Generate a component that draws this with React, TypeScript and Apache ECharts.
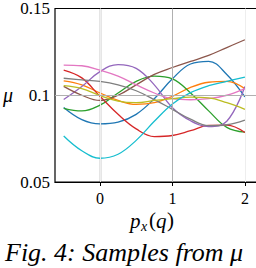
import React, { useEffect, useRef } from "react";
import * as echarts from "echarts";

const xs = [-0.5, -0.25, 0, 0.25, 0.5, 0.75, 1, 1.25, 1.5, 1.75, 2];
const blue = [0.093, 0.086, 0.0835, 0.0845, 0.089, 0.098, 0.1095, 0.118, 0.1195, 0.112, 0.099];
const orange = [0.1083, 0.106, 0.1013, 0.097, 0.0947, 0.0957, 0.0994, 0.1045, 0.1075, 0.108, 0.1038];
const green = [0.0925, 0.091, 0.0943, 0.1013, 0.108, 0.111, 0.1094, 0.1013, 0.091, 0.0815, 0.0787];
const red = [0.1145, 0.11, 0.0994, 0.089, 0.0806, 0.0762, 0.0768, 0.0796, 0.0826, 0.0828, 0.0785];
const purple = [0.0975, 0.105, 0.1136, 0.1177, 0.1155, 0.106, 0.0928, 0.0853, 0.082, 0.085, 0.105];
const brown = [0.1051, 0.1, 0.097, 0.1, 0.106, 0.112, 0.116, 0.1195, 0.123, 0.1275, 0.132];
const pink = [0.1174, 0.117, 0.1145, 0.111, 0.106, 0.1013, 0.098, 0.0974, 0.098, 0.1, 0.1038];
const gray = [0.1098, 0.1089, 0.108, 0.106, 0.1026, 0.0975, 0.0919, 0.0862, 0.0825, 0.083, 0.0857];
const olive = [0.1055, 0.1038, 0.0998, 0.0966, 0.0957, 0.097, 0.098, 0.0989, 0.0985, 0.0957, 0.0919];
const cyan = [0.0765, 0.068, 0.0637, 0.066, 0.074, 0.085, 0.095, 0.1015, 0.1055, 0.108, 0.1105];

const samples = [blue, orange, green, red, purple, brown, pink, gray, olive, cyan];
const colors = ["#1f77b4", "#ff7f0e", "#2ca02c", "#d62728", "#9467bd", "#8c564b", "#e377c2", "#7f7f7f", "#bcbd22", "#17becf"];
const xTicks = [0, 1, 2];
const yTicks = [0.05, 0.1, 0.15];

const FONT = "Liberation Serif";

export default function App() {
  const ref = useRef<HTMLDivElement>(null);
  useEffect(() => {
    const chart = echarts.init(ref.current!, null, { renderer: "svg" });
    const series: any[] = [
      {
        type: "line",
        data: [],
        silent: true,
        z: 1,
        markLine: {
          silent: true,
          symbol: "none",
          animation: false,
          label: { show: false },
          data: [
            { xAxis: 0, lineStyle: { color: "#eeeeee", width: 1, type: "solid" } },
            { xAxis: 1, lineStyle: { color: "#b0b0b0", width: 1, type: "solid" } },
            { xAxis: 2, lineStyle: { color: "#eeeeee", width: 1, type: "solid" } },
            { yAxis: 0.1, lineStyle: { color: "#b0b0b0", width: 1, type: "solid" } },
          ],
        },
      },
    ];
    samples.forEach((s, i) => {
      series.push({
        type: "line",
        data: xs.map((x, j) => [x, s[j]]),
        smooth: 0.4,
        showSymbol: false,
        z: 2,
        lineStyle: { color: colors[i], width: 1.3 },
      });
    });
    const txt = (text: string, x: number, y: number, size: number, italic: boolean) => ({
      type: "text",
      x,
      y,
      style: {
        text,
        fontFamily: FONT,
        fontSize: size,
        fontStyle: italic ? "italic" : "normal",
        fill: "#000",
        verticalAlign: "middle",
      },
    });
    chart.setOption({
      animation: false,
      textStyle: { fontFamily: FONT },
      grid: { left: 55, top: 6, bottom: 86, right: 0, show: true, borderColor: "#000", borderWidth: 1.2 },
      xAxis: {
        type: "value",
        min: -0.62,
        max: 2.36,
        axisLine: { show: true, lineStyle: { color: "#000", width: 1.2 } },
        axisTick: { show: true, customValues: xTicks, length: 4, lineStyle: { color: "#000" } },
        axisLabel: {
          customValues: xTicks,
          margin: 8,
          formatter: (v: number) => `{a|${v}}`,
          rich: { a: { fontFamily: FONT, fontSize: 16, color: "#000" } },
        },
        splitLine: { show: false },
      },
      yAxis: {
        type: "value",
        min: 0.05,
        max: 0.15,
        interval: 0.05,
        axisLine: { show: true, lineStyle: { color: "#000", width: 1.2 } },
        axisTick: { show: true, customValues: yTicks, length: 4, lineStyle: { color: "#000" } },
        axisLabel: {
          customValues: yTicks,
          margin: 5,
          formatter: (v: number) => `{a|${Math.round(v * 100) / 100}}`,
          rich: { a: { fontFamily: FONT, fontSize: 17, color: "#000" } },
        },
        splitLine: { show: false },
      },
      graphic: [
        txt("μ", 3, 95, 20, true),
        txt("p", 130, 221, 21, true),
        txt("x", 141, 226, 14, true),
        txt("(", 149, 220, 21, false),
        txt("q", 156, 221, 21, true),
        txt(")", 167, 220, 21, false),
        txt("Fig. 4: Samples from μ", 5, 252, 26, true),
      ],
      series,
    });
    return () => chart.dispose();
  }, []);
  return (
    <div style={{ position: "absolute", left: 0, top: 0, width: 256, height: 268, overflow: "hidden" }}>
      <div ref={ref} style={{ width: 271, height: 268 }} />
    </div>
  );
}
